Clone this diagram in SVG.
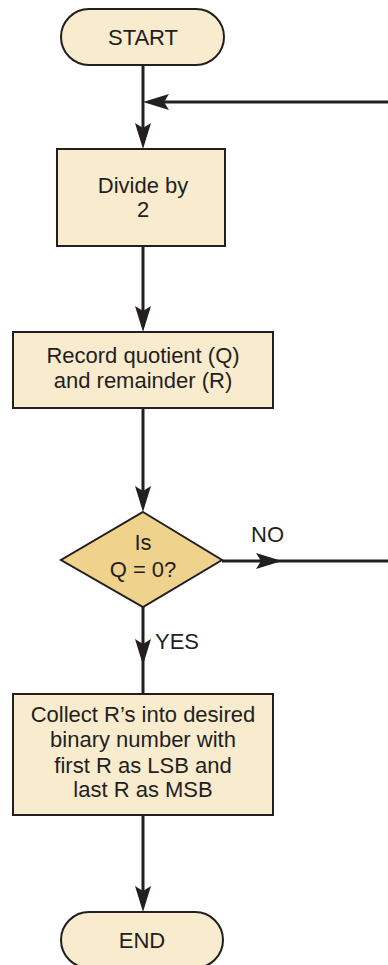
<svg xmlns="http://www.w3.org/2000/svg" width="388" height="965" viewBox="0 0 388 965">
<style>
.box{fill:#f9ebcd;stroke:#231f20;stroke-width:2}
.dec{fill:#efd28b;stroke:#231f20;stroke-width:2}
.ln{fill:none;stroke:#231f20;stroke-width:3}
text{font-family:"Liberation Sans",Arial,sans-serif;font-size:22px;fill:#231f20}
.c{text-anchor:middle}
</style>
<defs>
<marker id="ah" viewBox="-27 -9 28 18" refX="-6" refY="0" markerWidth="28" markerHeight="18" markerUnits="userSpaceOnUse" orient="auto">
<path d="M0,0 L-26,-8 L-21,0 L-26,8 Z" fill="#231f20"/>
</marker>
</defs>
<rect width="388" height="965" fill="#ffffff"/>
<g id="connectors">
<path class="ln" d="M143,65 V143" marker-end="url(#ah)"/>
<path class="ln" d="M388,102 H149" marker-end="url(#ah)"/>
<path class="ln" d="M143,246 V326" marker-end="url(#ah)"/>
<path class="ln" d="M143,408 V506" marker-end="url(#ah)"/>
<path class="ln" d="M222,561 H276" marker-end="url(#ah)"/>
<path class="ln" d="M276,561 H388"/>
<path class="ln" d="M143,607 V659" marker-end="url(#ah)"/>
<path class="ln" d="M143,659 V694"/>
<path class="ln" d="M143,815 V906" marker-end="url(#ah)"/>
<text x="267.5" y="542" class="c">NO</text>
<text x="155" y="649">YES</text>
</g>
<g id="start">
<rect class="box" x="61" y="9" width="163" height="56" rx="28"/>
<text x="143" y="45" class="c">START</text>
</g>
<g id="divide">
<rect class="box" x="57" y="149" width="168" height="97"/>
<text x="143" y="193" class="c">Divide by</text>
<text x="143" y="217" class="c">2</text>
</g>
<g id="record">
<rect class="box" x="13" y="332" width="260" height="76"/>
<text x="143" y="363" class="c">Record quotient (Q)</text>
<text x="143" y="388" class="c">and remainder (R)</text>
</g>
<g id="decision">
<polygon class="dec" points="143,512 222,560 143,607 61,560"/>
<text x="143" y="550" class="c">Is</text>
<text x="143" y="577" class="c">Q = 0?</text>
</g>
<g id="collect">
<rect class="box" x="13" y="694" width="260" height="121"/>
<text x="143" y="722" class="c">Collect R’s into desired</text>
<text x="143" y="747" class="c">binary number with</text>
<text x="143" y="773" class="c">first R as LSB and</text>
<text x="143" y="797" class="c">last R as MSB</text>
</g>
<g id="end">
<rect class="box" x="61" y="912" width="162" height="56" rx="28"/>
<text x="142" y="948" class="c">END</text>
</g>
</svg>
